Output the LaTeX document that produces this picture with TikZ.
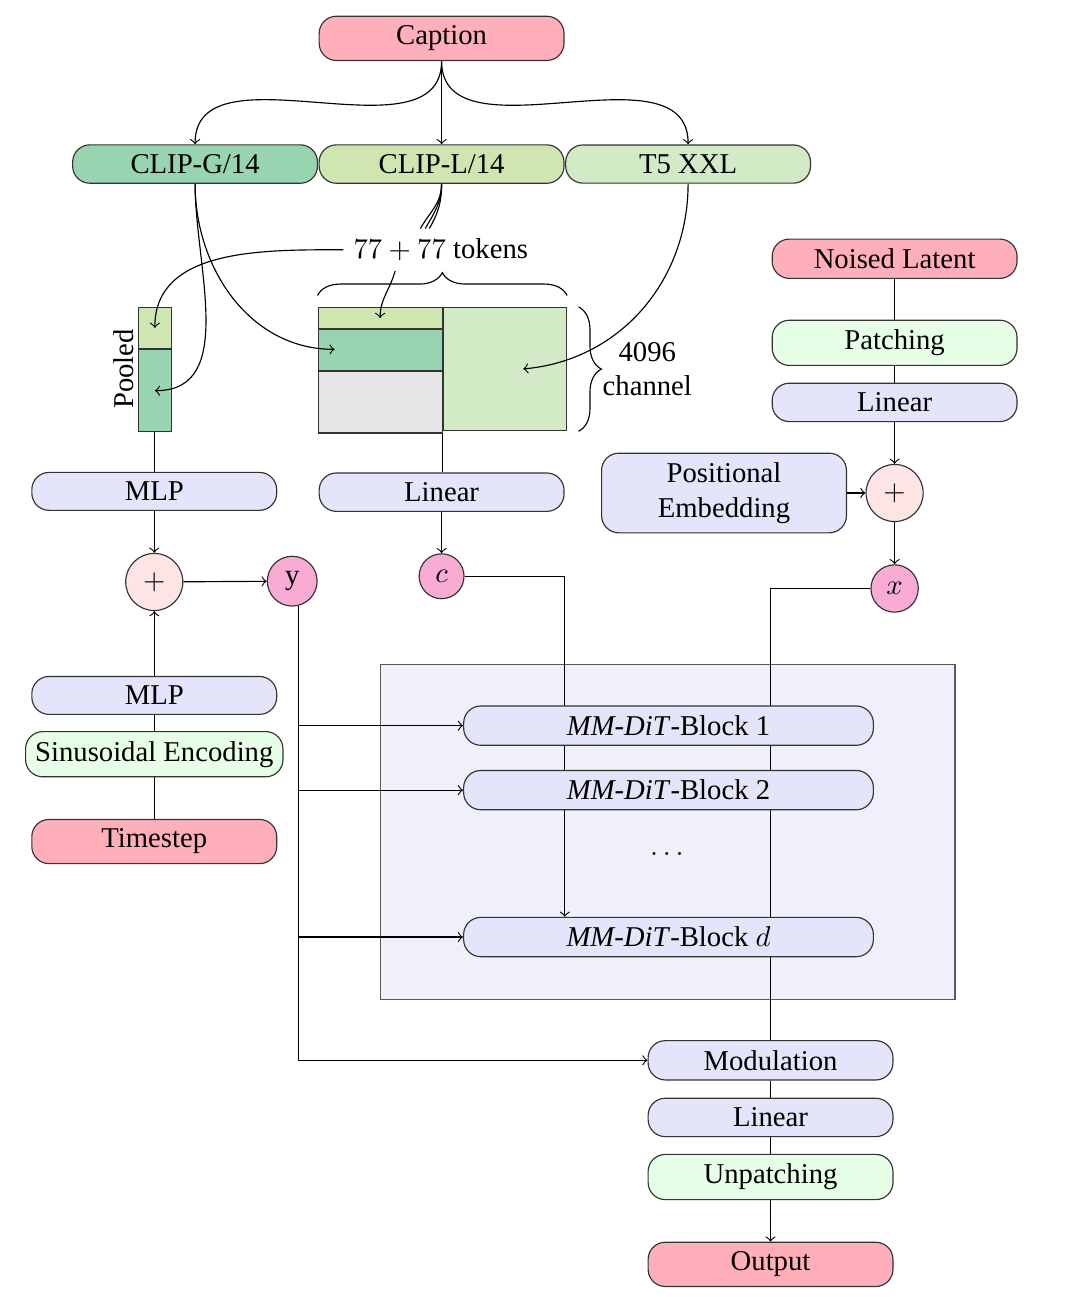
\documentclass[tikz,border=0pt]{standalone}
\usepackage{fontspec}
\setmainfont{Liberation Serif}
\usepackage{tikz}
\usetikzlibrary{calc,decorations.pathreplacing}
\usepackage{xcolor}

\definecolor{inred}{RGB}{255,175,185}
\definecolor{clipgcol}{RGB}{152,212,176}
\definecolor{cliplcol}{RGB}{207,230,177}
\definecolor{tfivecol}{RGB}{211,234,198}
\definecolor{patchcol}{RGB}{230,255,230}
\definecolor{layercol}{RGB}{228,228,250}
\definecolor{stackcol}{RGB}{240,240,252}
\definecolor{sumcol}{RGB}{253,229,229}
\definecolor{varcol}{RGB}{248,172,212}
\definecolor{padcol}{RGB}{229,229,229}

\pgfdeclarelayer{bg}
\pgfdeclarelayer{wires}
\pgfsetlayers{bg,wires,main}

\tikzset{
  blk/.style={draw=black!80, rounded corners=6pt, minimum width=3cm, align=center},
  cell/.style={draw=black!80, inner sep=0pt, anchor=north west},
  circ/.style={circle, draw=black!80, inner sep=0pt},
  brc/.style={decorate, decoration={brace, amplitude=0.28cm}}
}

\begin{document}
\begin{tikzpicture}
\useasboundingbox (0,0) rectangle (13.25,-15.89);

% text encoders
\node[blk, fill=inred] (caption) at (5.41,-0.47) {Caption};
\node[blk, fill=clipgcol] (clipG) at (2.39,-2.01) {CLIP-G/14};
\node[blk, fill=cliplcol] (clipL) at (5.41,-2.01) {CLIP-L/14};
\node[blk, fill=tfivecol] (tfive) at (8.43,-2.01) {T5 XXL};
\node (tok) at (5.40,-3.06) {$77+77$ tokens};

% pooled vector and context matrix
\node[cell, fill=cliplcol, minimum width=0.41cm, minimum height=0.50cm] (pTop) at (1.685,-3.76) {};
\node[cell, fill=clipgcol, minimum width=0.41cm, minimum height=1.01cm] (pBot) at (pTop.south west) {};
\node[rotate=90] (pooled) at (1.51,-4.52) {Pooled};
\node[cell, fill=cliplcol, minimum width=1.52cm, minimum height=0.26cm] (mTop) at (3.89,-3.76) {};
\node[cell, fill=clipgcol, minimum width=1.52cm, minimum height=0.50cm] (mMid) at (mTop.south west) {};
\node[cell, fill=padcol, minimum width=1.52cm, minimum height=0.75cm] (mPad) at (mMid.south west) {};
\node[cell, fill=tfivecol, minimum width=1.51cm, minimum height=1.51cm] (mT5) at (mTop.north east) {};
\node[align=center] (chan) at (7.93,-4.52) {4096\\channel};
\coordinate (midEnd) at (4.10,-4.28);
\coordinate (tEnd) at (6.41,-4.52);

% arrows into the cells
\draw[->] (tok.west) to[out=180,in=90] (pTop.center);
\draw[->] ($(tok.south)+(-0.56,0)$) to[out=-105,in=90] (mTop.center);
\draw[->] (clipG.south) to[out=-90,in=0] (pBot.center);
\draw[->] (clipG.south) to[out=-90,in=180] (midEnd);
\draw[->] (tfive.south) to[out=-90,in=5] (tEnd);

% conditioning
\node[blk, fill=layercol] (mlpA) at (1.89,-6.02) {MLP};
\node[blk, fill=layercol] (linA) at (5.41,-6.03) {Linear};
\node[circ, fill=sumcol, minimum size=0.70cm] (plusA) at (1.89,-7.13) {$+$};
\node[circ, fill=varcol, minimum size=0.61cm] (yvar) at (3.58,-7.12) {y};
\node[circ, fill=varcol, minimum size=0.55cm] (cvar) at (5.41,-7.06) {$c$};
\node[blk, fill=layercol] (mlpB) at (1.89,-8.52) {MLP};
\node[blk, fill=patchcol] (sinus) at (1.89,-9.24) {Sinusoidal Encoding};
\node[blk, fill=inred] (tstep) at (1.89,-10.31) {Timestep};

% latent input
\node[blk, fill=inred] (noised) at (10.96,-3.17) {Noised Latent};
\node[blk, fill=patchcol] (patch) at (10.96,-4.20) {Patching};
\node[blk, fill=layercol] (linB) at (10.96,-4.93) {Linear};
\node[circ, fill=sumcol, minimum size=0.70cm] (plusB) at (10.96,-6.04) {$+$};
\node[blk, fill=layercol] (posemb) at (8.87,-6.04) {Positional\\Embedding};
\node[circ, fill=varcol, minimum size=0.58cm] (xvar) at (10.96,-7.21) {$x$};

% transformer stack
\node[blk, fill=layercol, minimum width=5.02cm] (blk1) at (8.19,-8.89) {\textit{MM-DiT}-Block 1};
\node[blk, fill=layercol, minimum width=5.02cm] (blk2) at (8.19,-9.68) {\textit{MM-DiT}-Block 2};
\node (dots) at (8.17,-10.46) {$\dots$};
\node[blk, fill=layercol, minimum width=5.02cm] (blkD) at (8.19,-11.48) {\textit{MM-DiT}-Block $d$};
\begin{pgfonlayer}{bg}
\draw[draw=black!65, fill=stackcol] (4.66,-8.14) rectangle (11.70,-12.24);
\end{pgfonlayer}

% output head
\node[blk, fill=layercol] (modul) at (9.44,-12.99) {Modulation};
\node[blk, fill=layercol] (linC) at (9.44,-13.69) {Linear};
\node[blk, fill=patchcol] (unpatch) at (9.44,-14.42) {Unpatching};
\node[blk, fill=inred] (output) at (9.44,-15.49) {Output};

\begin{pgfonlayer}{wires}
\draw[->] (caption.south) to[out=-90,in=90] (clipG.north);
\draw[->] (caption.south) -- (clipL.north);
\draw[->] (caption.south) to[out=-90,in=90] (tfive.north);
\foreach \dx in {-0.25,-0.19,-0.14}
  \draw (clipL.south) to[out=-90,in=60] ($(tok.north)+(\dx,0)$);
\draw[brc] ([yshift=0.14cm]mTop.north west) -- ([yshift=0.14cm]mT5.north east);
\draw[brc] ([xshift=0.14cm]mT5.north east) -- ([xshift=0.14cm]mT5.south east);

\draw (pBot.south) -- (pBot.south |- mlpA.north);
\draw (mT5.south west) -- (mT5.south west |- linA.north);
\draw[->] (mlpA) -- (plusA);
\draw[->] (plusA) -- (yvar);
\draw[->] (linA) -- (cvar);
\draw[->] (mlpB) -- (plusA);
\draw (tstep) -- (sinus);
\draw (sinus) -- (mlpB);

\draw (noised) -- (patch);
\draw (patch) -- (linB);
\draw[->] (linB) -- (plusB);
\draw[->] (posemb) -- (plusB);
\draw[->] (plusB) -- (xvar);

\coordinate (cdrop) at (6.92,0);
\draw[->] (cvar.east) -| (cdrop |- blkD.north);
\draw (xvar.west) -| (modul.north);
\draw[->] (yvar.-75) |- (modul.west);
\foreach \b in {blk1,blk2,blkD}
  \draw[->] (yvar.-75 |- \b.west) -- (\b.west);
\draw (modul) -- (linC);
\draw (linC) -- (unpatch);
\draw[->] (unpatch) -- (output);
\end{pgfonlayer}
\end{tikzpicture}
\end{document}
